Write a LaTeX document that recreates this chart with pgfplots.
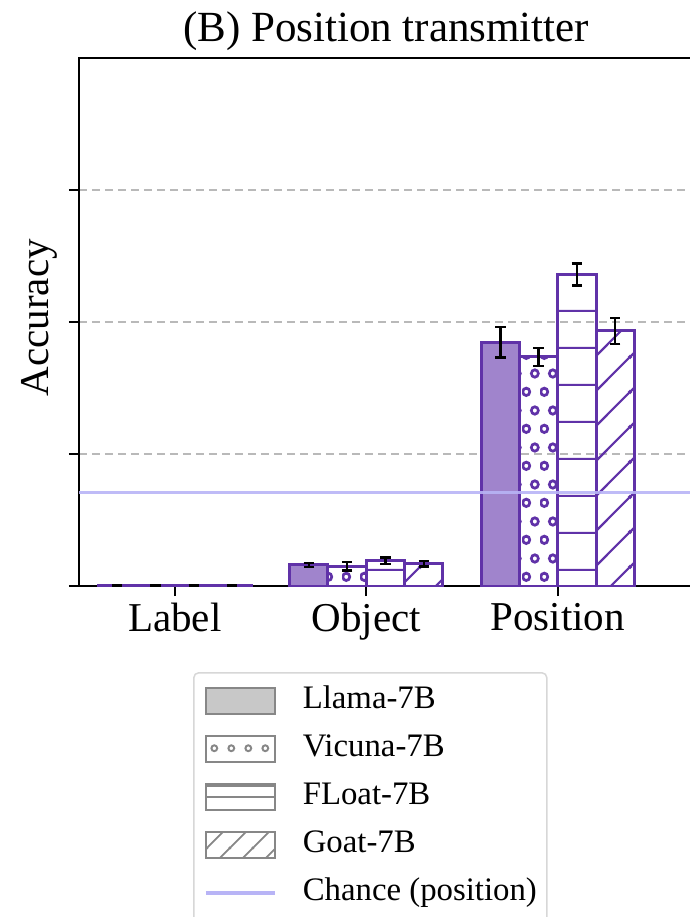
\documentclass[border=0pt]{standalone}
\usepackage{fontspec}
\setmainfont{Liberation Serif}
\usepackage{pgfplots}
\pgfplotsset{compat=1.18}
\usetikzlibrary{patterns.meta}

\definecolor{pedge}{RGB}{96,50,168}
\definecolor{pfill}{RGB}{160,132,204}
\definecolor{chancec}{RGB}{184,180,246}
\definecolor{gridc}{RGB}{185,185,185}
\definecolor{legedge}{RGB}{135,135,135}
\definecolor{legfill}{RGB}{200,200,200}
\definecolor{legbox}{RGB}{215,215,215}

\tikzdeclarepattern{
  name=hlinesP,
  type=uncolored,
  bounding box={(0pt,0pt) and (10pt,18.3pt)},
  tile size={(10pt,18.3pt)},
  code={\draw[line width=1.1pt] (-1pt,9.15pt) -- (11pt,9.15pt);}
}
\tikzdeclarepattern{
  name=ringsP,
  type=uncolored,
  bounding box={(0pt,0pt) and (9pt,18.4pt)},
  tile size={(9pt,18.4pt)},
  code={\draw[line width=1.4pt] (2.25pt,4.6pt) circle (1.85pt);
        \draw[line width=1.4pt] (6.75pt,13.8pt) circle (1.85pt);}
}
\tikzdeclarepattern{
  name=diagP,
  type=uncolored,
  bounding box={(0pt,0pt) and (17.5pt,17.5pt)},
  tile size={(17.5pt,17.5pt)},
  code={\draw[line width=1.1pt] (-1pt,-1pt) -- (18.5pt,18.5pt);
        \draw[line width=1.1pt] (-1pt,16.5pt) -- (1pt,18.5pt);
        \draw[line width=1.1pt] (16.5pt,-1pt) -- (18.5pt,1pt);}
}
\tikzdeclarepattern{
  name=diagL,
  type=uncolored,
  bounding box={(0pt,0pt) and (11.5pt,11.5pt)},
  tile size={(11.5pt,11.5pt)},
  code={\draw[line width=0.9pt] (-1pt,-1pt) -- (12.5pt,12.5pt);
        \draw[line width=0.9pt] (-1pt,10.5pt) -- (1pt,12.5pt);
        \draw[line width=0.9pt] (10.5pt,-1pt) -- (12.5pt,1pt);}
}
\tikzdeclarepattern{
  name=ringsL,
  type=uncolored,
  bounding box={(0pt,0pt) and (8.6pt,13pt)},
  tile size={(8.6pt,13pt)},
  code={\draw[line width=1pt] (4.3pt,6.5pt) circle (1.5pt);}
}

% category x: 0 = Label, 1 = Object, 2 = Position
\pgfplotstableread{
x y e
0 0.001 0.000
1 0.040 0.004
2 0.462 0.029
}\llama
\pgfplotstableread{
x y e
0 0.001 0.000
1 0.037 0.008
2 0.434 0.017
}\vicuna
\pgfplotstableread{
x y e
0 0.001 0.000
1 0.048 0.006
2 0.590 0.021
}\floatm
\pgfplotstableread{
x y e
0 0.001 0.000
1 0.042 0.005
2 0.483 0.025
}\goat

\begin{document}
\begin{tikzpicture}
\begin{axis}[
  at={(0,0)}, anchor=south west,
  scale only axis,
  width=311.2pt, height=264pt,
  xmin=-0.5, xmax=2.75,
  ymin=0, ymax=1,
  xtick={0,1,2},
  xticklabels={Label,Object,Position},
  ytick={0,0.25,0.5,0.75},
  yticklabels={},
  tick pos=left,
  tick align=outside,
  major tick length=5pt,
  every tick/.style={black, line width=1pt},
  axis line style={black, line width=1.2pt},
  ymajorgrids,
  grid style={gridc, line width=0.75pt, dash pattern=on 4pt off 2.5pt},
  xticklabel style={font=\fontsize{20.5}{24}\selectfont},
  ylabel={Accuracy},
  ylabel style={font=\fontsize{20.5}{24}\selectfont, at={(axis description cs:-0.064,0.508)}, anchor=center},
  title={(B) Position transmitter},
  every axis title/.style={font=\fontsize{21.5}{25}\selectfont, at={(axis description cs:0.4935,1)}, anchor=base, yshift=8.5pt},
  ybar, bar width=0.2,
  error bars/y dir=both, error bars/y explicit,
  error bars/error bar style={black, line width=1.2pt},
  error bars/error mark options={black, rotate=90, mark size=2.6pt, line width=1.2pt},
  legend cell align=left,
  legend style={
    at={(axis description cs:0.1832,-0.1629)}, anchor=north west,
    draw=legbox, line width=0.75pt, rounded corners=2.5pt,
    fill=white,
    font=\fontsize{16.4}{19}\selectfont,
    inner xsep=5pt, inner ysep=6pt,
    column sep=13pt, row sep=8pt,
    nodes={inner sep=0pt, text height=12pt, text depth=4pt},
  },
]
\addplot[bar shift=-0.3, draw=pedge, line width=1.5pt, fill=pfill, forget plot]
  table[x=x, y=y, y error=e] {\llama};
\addplot[bar shift=-0.1, draw=pedge, line width=1.5pt, pattern=ringsP, pattern color=pedge, forget plot]
  table[x=x, y=y, y error=e] {\vicuna};
\addplot[bar shift=0.1, draw=pedge, line width=1.5pt, pattern=hlinesP, pattern color=pedge, forget plot]
  table[x=x, y=y, y error=e] {\floatm};
\addplot[bar shift=0.3, draw=pedge, line width=1.5pt, pattern=diagP, pattern color=pedge, forget plot]
  table[x=x, y=y, y error=e] {\goat};
\addplot[sharp plot, chancec, line width=1.1pt, opacity=0.9, forget plot, error bars/y dir=none]
  coordinates {(-0.5,0.177) (2.75,0.177)};

\addlegendimage{legend image code/.code={\draw[sharp corners, line width=0.9pt, draw=legedge, fill=legfill] (0pt,-6.5pt) rectangle (34.5pt,6.5pt);}}
\addlegendentry{Llama-7B}
\addlegendimage{legend image code/.code={\draw[sharp corners, line width=0.9pt, draw=legedge, pattern=ringsL, pattern color=legedge] (0pt,-6.5pt) rectangle (34.5pt,6.5pt);}}
\addlegendentry{Vicuna-7B}
\addlegendimage{legend image code/.code={\draw[sharp corners, line width=0.9pt, draw=legedge] (0pt,-6.5pt) rectangle (34.5pt,6.5pt); \draw[line width=1.6pt, draw=legedge] (0pt,5.9pt) -- (34.5pt,5.9pt); \draw[line width=0.9pt, draw=legedge] (0pt,0pt) -- (34.5pt,0pt);}}
\addlegendentry{FLoat-7B}
\addlegendimage{legend image code/.code={\draw[sharp corners, line width=0.9pt, draw=legedge, pattern=diagL, pattern color=legedge] (0pt,-6.5pt) rectangle (34.5pt,6.5pt);}}
\addlegendentry{Goat-7B}
\addlegendimage{legend image code/.code={\draw[line width=2pt, draw=chancec] (0pt,0pt) -- (34.5pt,0pt);}}
\addlegendentry{Chance (position)}
\addlegendimage{empty legend}
\addlegendentry{}
\end{axis}
\pgfresetboundingbox
\path[use as bounding box] (-39.5pt,-165.5pt) rectangle (305.5pt,293pt);
\end{tikzpicture}
\end{document}
